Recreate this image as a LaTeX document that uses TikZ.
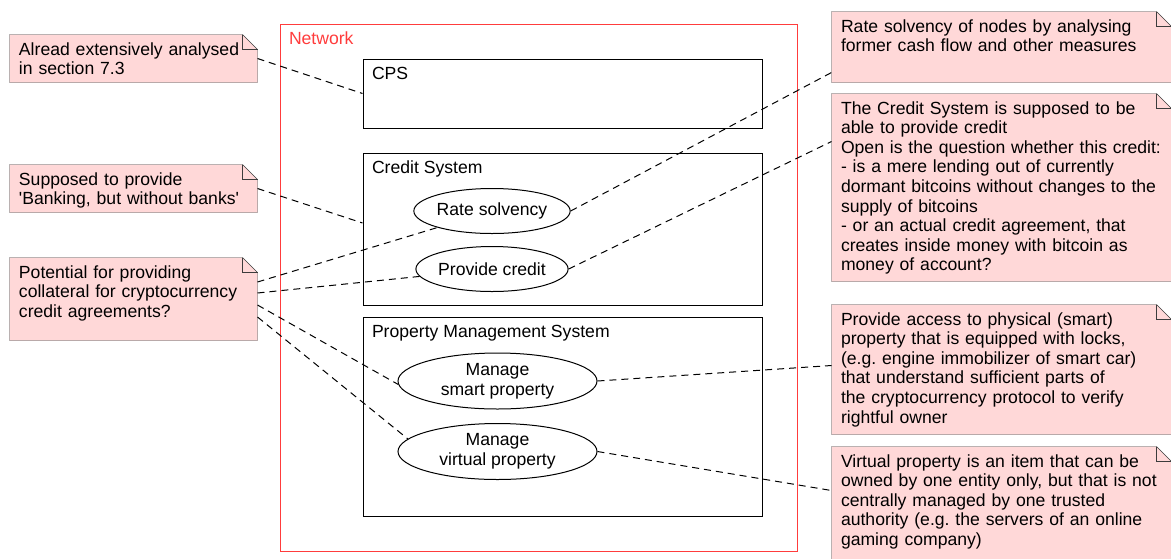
\documentclass[tikz,border=0pt]{standalone}
\usepackage{fontspec}
\setmainfont{Liberation Sans}
\usepackage{xcolor}
\usepackage{tikz}
\usetikzlibrary{calc, positioning, shapes.geometric, backgrounds}
\definecolor{notepink}{RGB}{255,216,216}
\definecolor{noteline}{RGB}{60,60,60}
\definecolor{netred}{RGB}{255,60,60}
\frenchspacing

\begin{document}
\begin{tikzpicture}[x=1pt, y=-1pt, line width=1pt, font=\fontsize{17.6pt}{19.6pt}\selectfont]
	\tikzset{box/.style={draw, rectangle, inner sep=0pt}}
	\tikzset{boxname/.style={anchor=north west, inner xsep=9pt, inner ysep=6pt, text height=14pt}}
	\tikzset{usecase/.style={draw, ellipse, inner sep=0pt, align=center}}
	\tikzset{note/.style={rectangle, inner sep=0pt}}
	\tikzset{notetext/.style={anchor=north west, inner xsep=9pt, inner ysep=6pt, text height=14pt, align=left, text width=#1}}
	\tikzset{link/.style={dash pattern=on 7pt off 5pt}}

	\path[use as bounding box, clip] (0,0) rectangle (1171,558);

	% containers
	\node (net) [box, draw=netred, minimum width=517pt, minimum height=527pt, label={[boxname, text=netred]north west:Network}] at (538.5, 287.5) {};
	\node (cps) [box, minimum width=399pt, minimum height=69pt, label={[boxname]north west:CPS}] at (562.5, 93.5) {};
	\node (cs) [box, minimum width=399pt, minimum height=152pt, label={[boxname]north west:Credit System}] at (562.5, 229) {};
	\node (pms) [box, minimum width=399pt, minimum height=199pt, label={[boxname]north west:Property Management System}] at (562.5, 416.5) {};

	% use cases
	\node (rs) [usecase, minimum width=140pt, minimum height=45pt] at (492, 211) {Rate solvency};
	\node (pc) [usecase, minimum width=140pt, minimum height=45pt] at (492, 269) {Provide credit};
	\node (sp) [usecase, minimum width=199pt, minimum height=56pt] at (497.5, 381) {Manage\\smart property};
	\node (vp) [usecase, minimum width=199pt, minimum height=56pt] at (497.5, 451.5) {Manage\\virtual property};

	% notes
	\node (n1) [note, minimum width=247pt, minimum height=47pt, label={[notetext=240pt]north west:{Alread extensively analysed\\in section 7.3}}] at (133.5, 58.5) {};
	\node (n2) [note, minimum width=247pt, minimum height=47pt, label={[notetext=240pt]north west:{Supposed to provide\\\textquotesingle Banking, but without banks\textquotesingle}}] at (133.5, 188.5) {};
	\node (n3) [note, minimum width=247pt, minimum height=82pt, label={[notetext=240pt]north west:{Potential for providing\\collateral for cryptocurrency\\credit agreements?}}] at (133.5, 299) {};
	\node (r1) [note, minimum width=339pt, minimum height=70pt, label={[notetext=332pt]north west:{Rate solvency of nodes by analysing\\former cash flow and other measures}}] at (1001.5, 47) {};
	\node (r2) [note, minimum width=339pt, minimum height=187pt, label={[notetext=332pt]north west:{The Credit System is supposed to be\\able to provide credit\\Open is the question whether this credit:\\- is a mere lending out of currently\\dormant bitcoins without changes to the\\supply of bitcoins\\- or an actual credit agreement, that\\creates inside money with bitcoin as\\money of account?}}] at (1001.5, 187.5) {};
	\node (r3) [note, minimum width=339pt, minimum height=129pt, label={[notetext=332pt]north west:{Provide access to physical (smart)\\property that is equipped with locks,\\(e.g. engine immobilizer of smart car)\\that understand sufficient parts of\\the cryptocurrency protocol to verify\\rightful owner}}] at (1001.5, 369.5) {};
	\node (r4) [note, minimum width=339pt, minimum height=140pt, label={[notetext=332pt]north west:{Virtual property is an item that can be\\owned by one entity only, but that is not\\centrally managed by one trusted\\authority (e.g. the servers of an online\\gaming company)}}] at (1001.5, 517) {};

	\begin{scope}[on background layer]
		\foreach \n in {n1, n2, n3, r1, r2, r3, r4} {
			\filldraw[fill=notepink, draw=noteline] (\n.north west) -- ([xshift=-15pt]\n.north east) -- ([yshift=-15pt]\n.north east) -- (\n.south east) -- (\n.south west) -- cycle;
			\draw[noteline] ([xshift=-15pt]\n.north east) |- ([yshift=-15pt]\n.north east);
		}
	\end{scope}

	% note links
	\draw[link] (n1.east) -- (cps.west);
	\draw[link] (n2.east) -- ($(cs.west)+(0,-6)$);
	\draw[link] ($(n3.east)+(0,-17)$) -- (rs);
	\draw[link] ($(n3.east)+(0,-6)$) -- (pc);
	\draw[link] ($(n3.east)+(0,6)$) -- (sp.182);
	\draw[link] ($(n3.east)+(0,18)$) -- (vp.172);
	\draw[link] (rs.east) -- ($(r1.south west)+(0,-10)$);
	\draw[link] (pc.east) -- ($(r2.north west)+(0,48)$);
	\draw[link] (sp.east) -- ($(r3.west)+(0,-4)$);
	\draw[link] (vp.east) -- ($(r4.north west)+(0,44)$);
\end{tikzpicture}
\end{document}
